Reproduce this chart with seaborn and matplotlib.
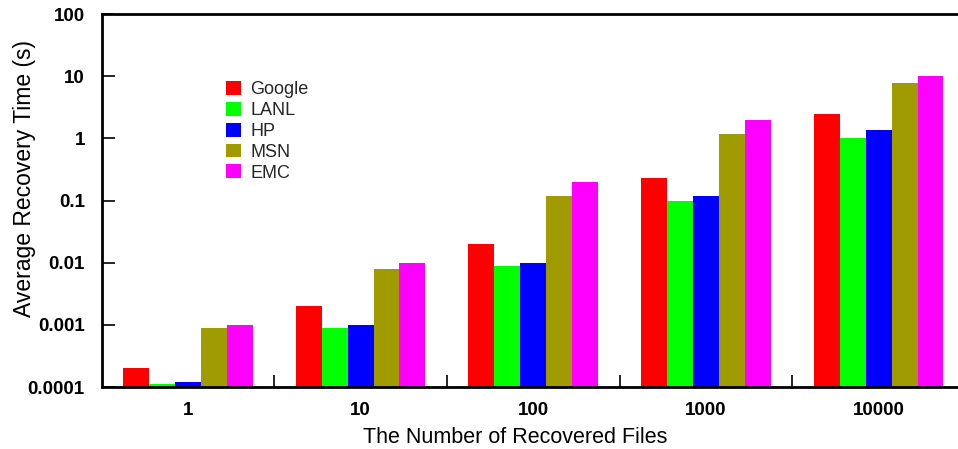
import matplotlib
matplotlib.use("Agg")
import matplotlib.pyplot as plt
import seaborn as sns
import pandas as pd
from matplotlib.ticker import FixedLocator, NullLocator

# Average recovery time (seconds) per trace and number of recovered files
file_counts = ["1", "10", "100", "1000", "10000"]
traces = ["Google", "LANL", "HP", "MSN", "EMC"]
google = [0.0002, 0.002, 0.02, 0.23, 2.5]
lanl = [0.00011, 0.0009, 0.009, 0.1, 1.0]
hp = [0.00012, 0.001, 0.01, 0.117, 1.38]
msn = [0.00089, 0.008, 0.117, 1.17, 7.9]
emc = [0.001, 0.01, 0.195, 1.95, 10.0]
colors = ["#FF0000", "#00FF00", "#0000FF", "#A09C00", "#FF00FF"]

rows = []
for name, vals in zip(traces, [google, lanl, hp, msn, emc]):
    for cnt, v in zip(file_counts, vals):
        rows.append({"files": cnt, "trace": name, "time": v})
df = pd.DataFrame(rows)

sns.set_style("white")
plt.rcParams["font.family"] = ["Liberation Sans", "DejaVu Sans"]

fig = plt.figure(figsize=(9.58, 4.49), dpi=100)
# the plotting area runs a little past the right edge of the canvas
ax = fig.add_axes([101.5 / 958, 62 / 449, (965 - 101.5) / 958, 373 / 449])

sns.barplot(data=df, x="files", y="time", hue="trace", order=file_counts,
            hue_order=traces, palette=colors, width=0.75, saturation=1,
            edgecolor="none", linewidth=0, ax=ax)

ax.set_yscale("log")
ax.set_ylim(1e-4, 100)
ax.set_xlim(-0.5, 4.5)

yticks = [1e-4, 1e-3, 1e-2, 1e-1, 1, 10, 100]
ylabels = ["0.0001", "0.001", "0.01", "0.1", "1", "10", "100"]
ax.yaxis.set_major_locator(FixedLocator(yticks))
ax.yaxis.set_minor_locator(NullLocator())
ax.set_yticklabels(ylabels, fontsize=13.5, fontweight="bold", color="black")

ax.set_xticks(range(len(file_counts)))
ax.set_xticklabels(file_counts, fontsize=13.5, fontweight="bold", color="black")
ax.xaxis.set_minor_locator(FixedLocator([0.5, 1.5, 2.5, 3.5]))
ax.tick_params(axis="x", which="major", length=0, pad=11)
ax.tick_params(axis="x", which="minor", direction="in", length=9, width=1.2,
               bottom=True, color="black")
ax.tick_params(axis="y", which="major", direction="in", length=9, width=1.2,
               left=True, color="black", pad=12)

for side in ["left", "top", "bottom", "right"]:
    ax.spines[side].set_color("black")
    ax.spines[side].set_linewidth(2)

ax.set_xlabel("The Number of Recovered Files", fontsize=15.5, color="black")
ax.set_ylabel("Average Recovery Time (s)", fontsize=16.5, color="black")
ax.xaxis.set_label_coords(0.4794, -0.107)
ax.yaxis.set_label_coords(-0.076, 0.56)

ax.legend(loc="upper left", bbox_to_anchor=(0.1358, 0.839), frameon=False,
          fontsize=13, handlelength=0.81, handleheight=0.8,
          handletextpad=0.55, labelspacing=0.2, borderaxespad=0)

fig.savefig("out.png", dpi=100)
